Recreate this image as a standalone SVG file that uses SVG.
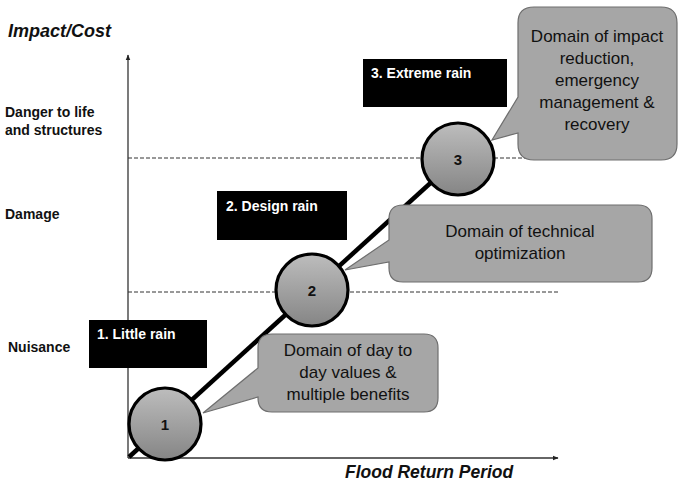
<svg xmlns="http://www.w3.org/2000/svg" width="678" height="482" viewBox="0 0 678 482">
<defs>
<marker id="arr" viewBox="0 0 10 10" refX="9" refY="5" markerWidth="6" markerHeight="6" orient="auto" markerUnits="userSpaceOnUse"><path d="M0,1 L10,5 L0,9 Z" fill="#222"/></marker>
<linearGradient id="cg" x1="0" y1="0" x2="0" y2="1"><stop offset="0" stop-color="#bdbdbd"/><stop offset="1" stop-color="#858585"/></linearGradient>
</defs>
<style>
text{font-family:"Liberation Sans",Arial,sans-serif;}
.lab{font-size:14px;font-weight:bold;fill:#111;}
.axt{font-size:18px;font-weight:bold;font-style:italic;fill:#111;}
.axt2{font-size:17.5px;font-weight:bold;font-style:italic;fill:#111;}
.box{fill:#000;}
.boxt{font-size:14px;font-weight:bold;fill:#fff;}
.call{fill:#a6a6a6;stroke:#6e6e6e;stroke-width:1.2;}
.callt{font-size:17px;fill:#111;text-anchor:middle;}
.circ{fill:url(#cg);stroke:#000;stroke-width:3.2;}
.num{font-size:15px;font-weight:bold;fill:#111;text-anchor:middle;}
.dash{stroke:#333;stroke-width:1;stroke-dasharray:4 2;fill:none;}
.axis{stroke:#333;stroke-width:1.3;fill:none;}
</style>
<rect width="678" height="482" fill="#fff"/>
<g id="labels">
<text class="axt" x="8" y="37">Impact/Cost</text>
<text class="lab" x="5" y="117">Danger to life</text>
<text class="lab" x="5" y="135">and structures</text>
<text class="lab" x="5" y="219">Damage</text>
<text class="lab" x="8" y="352">Nuisance</text>
<text class="axt2" x="345" y="478">Flood Return Period</text>
</g>
<g id="connectors">
<line class="axis" x1="128" y1="458" x2="128" y2="55" marker-end="url(#arr)"/>
<line class="axis" x1="128" y1="458" x2="558" y2="458" marker-end="url(#arr)"/>
<line class="dash" x1="128" y1="158" x2="532" y2="158"/>
<line class="dash" x1="128" y1="292" x2="558" y2="292"/>
<line x1="129" y1="457" x2="458" y2="158" stroke="#000" stroke-width="4.5"/>
</g>
<g id="box1"><rect class="box" x="89" y="320" width="118" height="48"/><text class="boxt" x="97" y="339">1. Little rain</text></g>
<g id="box2"><rect class="box" x="217" y="191" width="130" height="49"/><text class="boxt" x="226" y="211">2. Design rain</text></g>
<g id="box3"><rect class="box" x="363" y="59" width="144" height="48"/><text class="boxt" x="371" y="78">3. Extreme rain</text></g>
<g id="callout1"><path class="call" d="M272,334 H424 Q438,334 438,348 V398 Q438,412 424,412 H272 Q258,412 258,398 V397 L203,413 L258,368 V348 Q258,334 272,334 Z"/>
<text class="callt" x="348" y="356">Domain of day to</text><text class="callt" x="348" y="378">day values &amp;</text><text class="callt" x="348" y="400">multiple benefits</text></g>
<g id="callout2"><path class="call" d="M403,205 H638 Q652,205 652,219 V268 Q652,282 638,282 H403 Q389,282 389,268 V262 L345,270 L389,240 V219 Q389,205 403,205 Z"/>
<text class="callt" x="520" y="237">Domain of technical</text><text class="callt" x="520" y="259">optimization</text></g>
<g id="callout3"><path class="call" d="M534,7 H661 Q677,7 677,23 V144 Q677,160 661,160 H534 Q518,160 518,144 V133 L492,140 L518,97 V23 Q518,7 534,7 Z"/>
<text class="callt" x="597" y="42">Domain of impact</text><text class="callt" x="597" y="64">reduction,</text><text class="callt" x="597" y="86">emergency</text><text class="callt" x="597" y="108">management &amp;</text><text class="callt" x="597" y="130">recovery</text></g>
<g id="c1"><circle class="circ" cx="165" cy="424" r="36"/><text class="num" x="165" y="430">1</text></g>
<g id="c2"><circle class="circ" cx="312" cy="290" r="36"/><text class="num" x="312" y="296">2</text></g>
<g id="c3"><circle class="circ" cx="458" cy="159" r="36"/><text class="num" x="458" y="165">3</text></g>
</svg>
